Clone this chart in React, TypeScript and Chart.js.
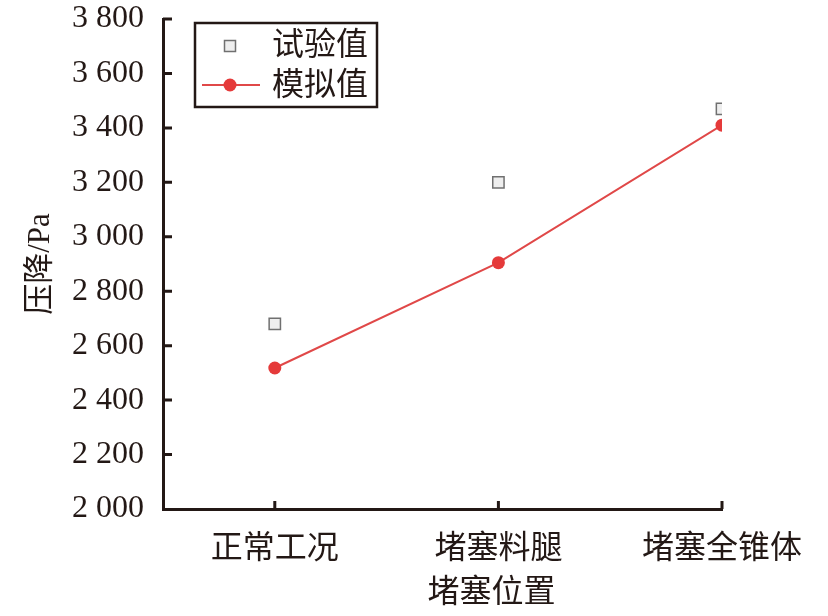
import React, { useEffect, useRef } from "react";
import { Chart, registerables } from "chart.js";

Chart.register(...registerables);

const CATEGORIES = ["正常工况", "堵塞料腿", "堵塞全锥体"];
const EXPERIMENT = [2680, 3200, 3470];
const SIMULATION = [2518, 2905, 3410];
const Y_MIN = 2000;
const Y_MAX = 3800;
const Y_STEP = 200;
const X_TITLE = "堵塞位置";
const Y_TITLE = "压降/Pa";
const SERIES_NAMES = ["试验值", "模拟值"];

const FONT = "'Liberation Serif', 'Noto Sans CJK SC', serif";
const INK = "#231815";
const TICK_LEN = 8;

const fmt = (v: number) => String(v).replace(/\B(?=(\d{3})+(?!\d))/g, " ");

const inwardTicksPlugin = {
  id: "inwardTicks",
  afterDatasetsDraw(chart: any) {
    const { ctx, chartArea } = chart;
    const xs = chart.scales.x;
    const ys = chart.scales.y;
    ctx.save();
    ctx.strokeStyle = INK;
    ctx.lineWidth = 3;
    ctx.beginPath();
    xs.ticks.forEach((t: any) => {
      const px = xs.getPixelForValue(t.value);
      ctx.moveTo(px, chartArea.bottom);
      ctx.lineTo(px, chartArea.bottom - TICK_LEN);
    });
    ys.ticks.forEach((t: any) => {
      if (t.value === Y_MIN) return;
      const py = ys.getPixelForValue(t.value);
      ctx.moveTo(chartArea.left, py);
      ctx.lineTo(chartArea.left + TICK_LEN + 1, py);
    });
    ctx.stroke();
    ctx.restore();
  },
};

const legendAndTitlePlugin = {
  id: "customLegend",
  afterDraw(chart: any) {
    const { ctx, chartArea } = chart;
    const ds = chart.data.datasets;
    ctx.save();
    const bx = chartArea.left + 32;
    const by = chartArea.top + 4;
    const bw = 182;
    const bh = 84;
    ctx.lineWidth = 2.5;
    ctx.strokeStyle = INK;
    ctx.strokeRect(bx, by, bw, bh);
    ctx.font = `32px ${FONT}`;
    ctx.textBaseline = "middle";
    ctx.textAlign = "left";
    const r1y = by + 23;
    const s = 11;
    ctx.fillStyle = ds[0].pointBackgroundColor;
    ctx.strokeStyle = ds[0].pointBorderColor;
    ctx.lineWidth = 1.5;
    ctx.fillRect(bx + 35 - s / 2, r1y - s / 2, s, s);
    ctx.strokeRect(bx + 35 - s / 2, r1y - s / 2, s, s);
    ctx.fillStyle = INK;
    ctx.fillText(ds[0].label, bx + 77, r1y + 1);
    const r2y = by + 62;
    ctx.strokeStyle = ds[1].borderColor;
    ctx.lineWidth = 2;
    ctx.beginPath();
    ctx.moveTo(bx + 7, r2y);
    ctx.lineTo(bx + 65, r2y);
    ctx.stroke();
    ctx.fillStyle = ds[1].pointBackgroundColor;
    ctx.beginPath();
    ctx.arc(bx + 35, r2y, 6.5, 0, Math.PI * 2);
    ctx.fill();
    ctx.fillStyle = INK;
    ctx.fillText(ds[1].label, bx + 77, r2y + 2);

    const xs = chart.scales.x;
    ctx.textAlign = "center";
    ctx.fillText(X_TITLE, xs.getPixelForValue(1) - 7, 594);
    ctx.restore();
  },
};

export default function App() {
  const ref = useRef<HTMLCanvasElement>(null);
  useEffect(() => {
    if (!ref.current) return;
    const chart = new Chart(ref.current, {
      type: "line",
      data: {
        datasets: [
          {
            label: SERIES_NAMES[0],
            data: EXPERIMENT.map((y, i) => ({ x: i, y })),
            showLine: false,
            pointStyle: "rect",
            pointRadius: 8,
            pointBorderWidth: 1.5,
            borderColor: "#707070",
            backgroundColor: "#eeeeee",
            pointBackgroundColor: "#eeeeee",
            pointBorderColor: "#707070",
          },
          {
            label: SERIES_NAMES[1],
            data: SIMULATION.map((y, i) => ({ x: i, y })),
            borderColor: "#e04848",
            borderWidth: 2,
            backgroundColor: "#e53a3a",
            pointBackgroundColor: "#e53a3a",
            pointBorderColor: "#e53a3a",
            pointRadius: 6.5,
            pointBorderWidth: 0,
            tension: 0,
          },
        ],
      },
      options: {
        responsive: false,
        animation: false,
        layout: { autoPadding: false, padding: { left: 0, right: 106, top: 0, bottom: 0 } },
        plugins: {
          legend: { display: false },
          tooltip: { enabled: false },
        },
        scales: {
          x: {
            type: "linear",
            min: -0.5,
            max: 2,
            afterBuildTicks: (scale: any) => {
              scale.ticks = CATEGORIES.map((_, i) => ({ value: i }));
            },
            afterFit: (scale: any) => {
              scale.height = 107;
            },
            grid: { drawOnChartArea: false, drawTicks: false },
            border: { color: INK, width: 3 },
            ticks: {
              callback: (v: any) => CATEGORIES[v] ?? "",
              font: { family: FONT, size: 32 },
              color: INK,
              padding: 21,
              maxRotation: 0,
              autoSkip: false,
            },
          },
          y: {
            min: Y_MIN,
            max: Y_MAX,
            afterFit: (scale: any) => {
              scale.width = 163;
              scale.paddingTop = 19;
              scale.paddingBottom = 0;
            },
            grid: { drawOnChartArea: false, drawTicks: false },
            border: { color: INK, width: 3 },
            ticks: {
              stepSize: Y_STEP,
              callback: (v: any) => fmt(v),
              font: { family: FONT, size: 32 },
              color: INK,
              padding: 19,
            },
            title: {
              display: true,
              text: Y_TITLE,
              font: { family: FONT, size: 31 },
              color: INK,
              padding: { top: 22, bottom: -7 },
            },
          },
        },
      },
      plugins: [inwardTicksPlugin, legendAndTitlePlugin],
    });
    return () => chart.destroy();
  }, []);
  return (
    <div style={{ position: "absolute", left: 0, top: 0, width: 828, height: 616, background: "#fff" }}>
      <canvas ref={ref} width={828} height={616} />
    </div>
  );
}
